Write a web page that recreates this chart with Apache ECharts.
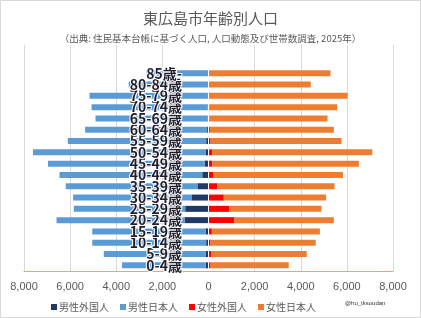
<!DOCTYPE html>
<html>
<head>
<meta charset="utf-8">
<script src="https://cdn.jsdelivr.net/npm/echarts@6/dist/echarts.min.js"></script>
<style>
  html, body { margin: 0; padding: 0; background: #fff; }
  #main { width: 421px; height: 318px; }
</style>
</head>
<body>
<div id="main"></div>
<script>
// 年齢区分（上から）
var ageGroups = ['85歳-', '80-84歳', '75-79歳', '70-74歳', '65-69歳', '60-64歳', '55-59歳', '50-54歳', '45-49歳',
  '40-44歳', '35-39歳', '30-34歳', '25-29歳', '20-24歳', '15-19歳', '10-14歳', '5-9歳', '0-4歳'];
var maleForeign = [20, 20, 25, 30, 40, 60, 100, 130, 170, 270, 480, 740, 1010, 1040, 130, 100, 130, 120];
var maleJapanese = [2660, 3440, 5135, 5040, 4860, 5290, 6000, 7480, 6790, 6190, 5710, 5130, 4830, 5550, 4910, 4940, 4410, 3630];
var femaleForeign = [15, 15, 20, 25, 40, 60, 90, 150, 170, 220, 380, 660, 910, 1130, 145, 90, 115, 90];
var femaleJapanese = [5275, 4420, 6010, 5555, 5120, 5375, 5680, 6950, 6350, 5610, 5085, 4440, 3990, 4305, 4685, 4560, 4145, 3390];
var seriesNames = ['男性外国人', '男性日本人', '女性外国人', '女性日本人'];
var colors = ['#1f3864', '#5b9bd5', '#ff0000', '#ed7d31'];

var jp = "'Noto Sans CJK JP', sans-serif";

// 下から並べる＋上に空き2行
function rows(arr, sign) {
  var r = arr.slice().reverse().map(function (v) { return v * sign; });
  return r.concat([null, null]);
}
var cats = ageGroups.slice().reverse().concat([' ', '  ']);

var myChart = echarts.init(document.getElementById('main'));

function bar(i, data) {
  return {
    name: seriesNames[i],
    type: 'bar',
    stack: 'all',
    barWidth: 6,
    itemStyle: { color: colors[i] },
    data: data
  };
}

var series = [
  bar(0, rows(maleForeign, -1)),
  bar(1, rows(maleJapanese, -1)),
  bar(2, rows(femaleForeign, 1)),
  bar(3, rows(femaleJapanese, 1))
];
// 0の位置の白い線
series[3].markLine = {
  silent: true,
  symbol: 'none',
  label: { show: false },
  lineStyle: { color: '#fff', width: 1, type: 'solid' },
  data: [{ xAxis: 0 }]
};

myChart.setOption({
  backgroundColor: '#fff',
  animation: false,
  title: [{
    text: '東広島市年齢別人口',
    left: 'center',
    top: 11,
    padding: 0,
    textStyle: { fontFamily: jp, fontSize: 15, fontWeight: 'normal', color: '#595959' }
  }, {
    text: '（出典: 住民基本台帳に基づく人口, 人口動態及び世帯数調査, 2025年）',
    left: 'center',
    top: 34,
    padding: 0,
    textStyle: { fontFamily: jp, fontSize: 9.5, fontWeight: 'normal', color: '#595959' }
  }],
  legend: {
    data: seriesNames,
    left: 46,
    top: 297,
    icon: 'rect',
    itemWidth: 6,
    itemHeight: 6,
    itemGap: 11,
    textStyle: { fontFamily: jp, fontSize: 10, color: '#595959', padding: [0, 0, 0, -3] }
  },
  grid: { left: 24, right: 28, top: 45, bottom: 47, containLabel: false, outerBoundsMode: 'none' },
  xAxis: {
    type: 'value',
    min: -8000,
    max: 8000,
    interval: 2000,
    axisLine: { show: true, lineStyle: { color: '#f0a46c', width: 1 } },
    axisTick: { show: false },
    splitLine: { lineStyle: { color: '#d9d9d9' } },
    axisLabel: {
      color: '#595959',
      fontSize: 11,
      fontFamily: 'Liberation Sans',
      margin: 10,
      formatter: function (v) { return Math.abs(v).toLocaleString('en-US'); }
    }
  },
  yAxis: {
    type: 'category',
    data: cats,
    z: 5,
    axisLine: { show: false, onZero: false },
    axisTick: { show: false },
    axisLabel: {
      inside: true,
      interval: 0,
      margin: 158,
      align: 'right',
      fontFamily: jp,
      fontSize: 14,
      fontWeight: 'bold',
      color: '#1f1f2e',
      textBorderColor: '#fff',
      textBorderWidth: 2
    }
  },
  series: series,
  graphic: [{
    type: 'rect',
    shape: { x: 0.5, y: 0.5, width: 420, height: 317 },
    style: { fill: 'none', stroke: '#d9d9d9', lineWidth: 1 },
    silent: true
  }, {
    type: 'text',
    left: 345,
    top: 300,
    style: { text: '@hu_tksoudan', fontSize: 6, fill: '#333', fontFamily: 'Liberation Sans' }
  }]
});
</script>
</body>
</html>
